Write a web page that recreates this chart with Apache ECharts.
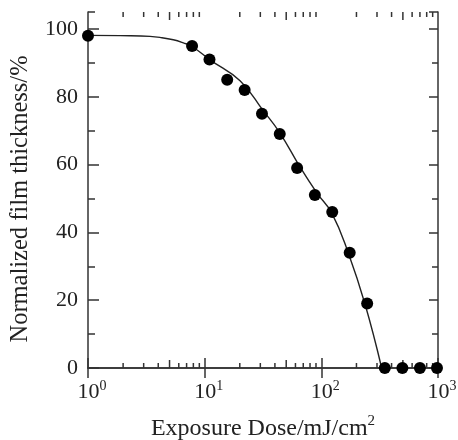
<!DOCTYPE html>
<html>
<head>
<meta charset="utf-8">
<script src="https://cdn.jsdelivr.net/npm/echarts@6/dist/echarts.min.js"></script>
<style>
  html, body { margin: 0; padding: 0; background: #fff; }
  #chart { width: 458px; height: 440px; }
</style>
</head>
<body>
<div id="chart"></div>
<script>
// measured points
const dose = [1, 7.8, 11, 15.6, 22, 31, 44, 62, 88, 124, 175, 247, 350, 495, 700, 980];
const thickness = [98, 95, 91, 85, 82, 75, 69, 59, 51, 46, 34, 19, 0, 0, 0, 0];

// fitted curve
const curveDose = [1, 2.29, 3.4, 4.14, 5.38, 6.56, 7.74, 11.1, 20.1, 31.6, 44.2, 65.6, 91.8, 123, 170, 237, 329];
const curveThickness = [98.1, 98.0, 97.8, 97.5, 96.8, 95.9, 94.9, 90.9, 84.7, 76, 69.3, 59.3, 51.6, 45.7, 34, 18.8, 0];

// minor ticks of the log axis
const minorTicks = [2, 3, 4, 5, 6, 7, 8, 9, 20, 30, 40, 50, 60, 70, 80, 90, 200, 300, 400, 500, 600, 700, 800, 900];

const FONT = '"Liberation Serif", "Times New Roman", serif';
const INK = '#222';
const Y_MAX = 105;

const chart = echarts.init(document.getElementById('chart'));

const lineStyle = { color: '#333', width: 1.5 };

chart.setOption({
  animation: false,
  grid: { left: 88, right: 20, top: 12, bottom: 72, outerBoundsMode: 'none', containLabel: false },
  xAxis: [
    {
      type: 'log',
      logBase: 10,
      min: 1,
      max: 1000,
      position: 'bottom',
      axisLine: { show: true, lineStyle },
      axisTick: { show: true, inside: true, length: 10, lineStyle },
      splitLine: { show: false },
      axisLabel: {
        color: INK,
        fontFamily: FONT,
        fontSize: 22,
        margin: 11,
        formatter: (v) => '{pad|}10{sup|' + Math.round(Math.log10(v)) + '}',
        rich: {
          pad: { width: 8 },
          sup: { fontSize: 14, fontFamily: FONT, color: INK, verticalAlign: 'top', padding: [0, 0, 12, 0] },
        },
      },
      name: 'Exposure Dose/mJ/cm{sup|2}',
      nameLocation: 'middle',
      nameGap: 46,
      nameTextStyle: {
        color: INK,
        fontFamily: FONT,
        fontSize: 24,
        rich: {
          sup: { fontSize: 15, fontFamily: FONT, color: INK, padding: [0, 0, 14, 0] },
        },
      },
    },
    {
      type: 'log',
      logBase: 10,
      min: 1,
      max: 1000,
      position: 'top',
      axisLine: { show: true, lineStyle },
      axisTick: { show: true, inside: true, length: 10, lineStyle },
      axisLabel: { show: false },
      splitLine: { show: false },
    },
  ],
  yAxis: [
    {
      type: 'value',
      min: 0,
      max: Y_MAX,
      interval: 20,
      position: 'left',
      axisLine: { show: true, lineStyle },
      axisTick: { show: true, inside: true, length: 11, lineStyle },
      splitLine: { show: false },
      axisLabel: { color: INK, fontFamily: FONT, fontSize: 22, margin: 10, showMaxLabel: false },
      name: 'Normalized film thickness/%',
      nameLocation: 'middle',
      nameGap: 55,
      nameTextStyle: { color: INK, fontFamily: FONT, fontSize: 24.5, padding: [0, 18, 0, 0] },
    },
    {
      type: 'value',
      min: 0,
      max: Y_MAX,
      interval: 10,
      position: 'left',
      axisLine: { show: false },
      axisTick: { show: true, inside: true, length: 7, lineStyle },
      axisLabel: { show: false },
      splitLine: { show: false },
    },
    {
      type: 'value',
      min: 0,
      max: Y_MAX,
      interval: 20,
      position: 'right',
      axisLine: { show: true, lineStyle },
      axisTick: { show: true, inside: true, length: 9, lineStyle },
      axisLabel: { show: false },
      splitLine: { show: false },
    },
    {
      type: 'value',
      min: 0,
      max: Y_MAX,
      interval: 10,
      position: 'right',
      axisLine: { show: false },
      axisTick: { show: true, inside: true, length: 6, lineStyle },
      axisLabel: { show: false },
      splitLine: { show: false },
    },
  ],
  series: [
    {
      type: 'custom',
      silent: true,
      clip: false,
      data: minorTicks.map((v) => [v]),
      encode: { x: 0 },
      renderItem: (params, api) => {
        const v = api.value(0);
        const len = String(v)[0] === '5' ? 8 : 5;
        const b = api.coord([v, 0]);
        const t = api.coord([v, Y_MAX]);
        const style = { stroke: '#333', lineWidth: 1.5 };
        return {
          type: 'group',
          children: [
            { type: 'line', shape: { x1: b[0], y1: b[1], x2: b[0], y2: b[1] - len }, style },
            { type: 'line', shape: { x1: t[0], y1: t[1], x2: t[0], y2: t[1] + len }, style },
          ],
        };
      },
    },
    {
      type: 'line',
      data: curveDose.map((d, i) => [d, curveThickness[i]]),
      smooth: 0.45,
      symbol: 'none',
      lineStyle: { color: '#222', width: 1.4 },
      z: 3,
    },
    {
      type: 'scatter',
      data: dose.map((d, i) => [d, thickness[i]]),
      symbol: 'circle',
      symbolSize: 12,
      itemStyle: { color: '#000', opacity: 1 },
      clip: false,
      z: 4,
    },
  ],
});
</script>
</body>
</html>
